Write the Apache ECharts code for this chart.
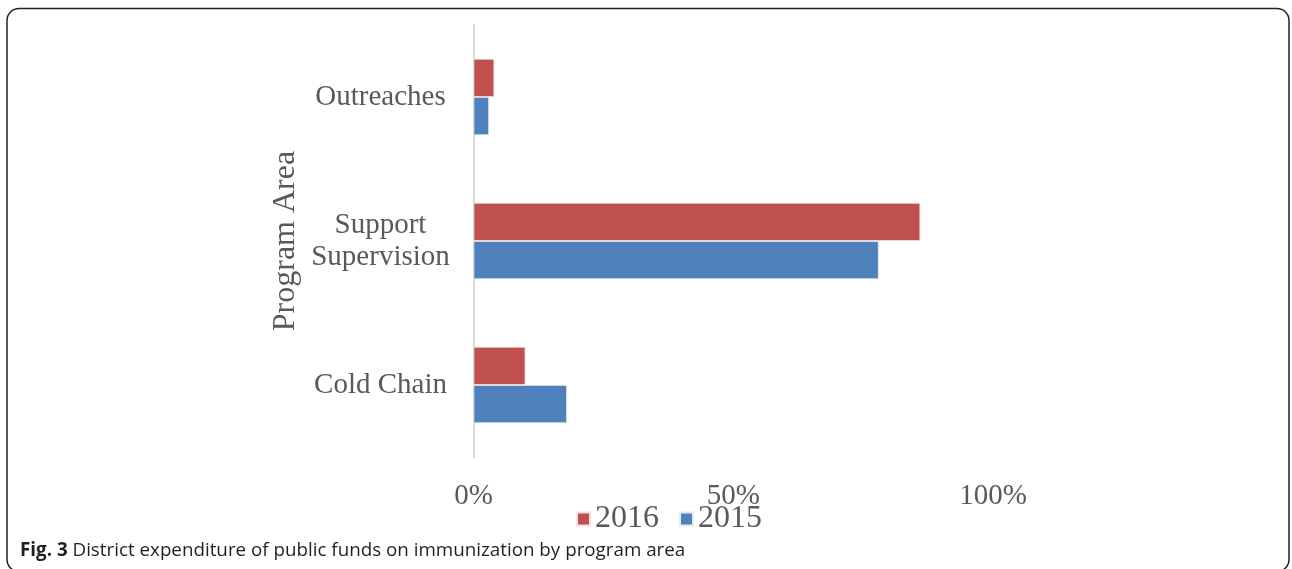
<!DOCTYPE html>
<html>
<head>
<meta charset="utf-8">
<script src="https://cdn.jsdelivr.net/npm/echarts@6/dist/echarts.min.js"></script>
<style>
html,body{margin:0;padding:0;background:#fff;}
#chart{width:1292px;height:569px;}
</style>
</head>
<body>
<div id="chart"></div>
<script>
const categories = ['Cold Chain', 'Support\nSupervision', 'Outreaches'];
const values2015 = [18, 78, 3];
const values2016 = [10, 86, 4];
const xTicks = [0, 50, 100];
const axisTitle = 'Program Area';
const caption = 'District expenditure of public funds on immunization by program area';

const serif = "'Liberation Serif', 'DejaVu Serif', serif";
const sans = "'Liberation Sans Narrow', 'Open Sans', sans-serif";
const gray = '#595959';

const chart = echarts.init(document.getElementById('chart'));
chart.setOption({
  animation: false,
  title: {
    left: 20, top: 541, padding: 0,
    text: '{b|Fig. 3} ' + caption,
    textStyle: {
      fontFamily: sans, fontSize: 18.8, fontWeight: 'normal', color: '#231F20',
      rich: { b: { fontWeight: 'bold', fontSize: 18.8, fontFamily: sans, color: '#231F20' } }
    }
  },
  legend: {
    data: ['2016', '2015'],
    left: 571, top: 498,
    itemWidth: 13, itemHeight: 13, itemGap: 20,
    icon: 'rect',
    textStyle: { fontFamily: serif, fontSize: 32, color: gray }
  },
  grid: { left: 473.5, right: 299, top: 25, bottom: 112, containLabel: false },
  xAxis: {
    type: 'value', min: xTicks[0], max: xTicks[xTicks.length - 1], interval: 50,
    axisLine: { show: false }, axisTick: { show: false }, splitLine: { show: false },
    axisLabel: { formatter: '{value}%', fontFamily: serif, fontSize: 29, color: gray, margin: 25 }
  },
  yAxis: {
    type: 'category', data: categories,
    name: axisTitle, nameLocation: 'middle', nameRotate: 90, nameGap: 172,
    nameTextStyle: { fontFamily: serif, fontSize: 32, color: gray },
    axisLine: { show: true, lineStyle: { color: '#D9D9D9', width: 2 } },
    axisTick: { show: false },
    axisLabel: { align: 'center', margin: 93, fontFamily: serif, fontSize: 29, lineHeight: 32, color: gray }
  },
  series: [
    { name: '2016', type: 'bar', data: values2016, barGap: '0%', barCategoryGap: '47%',
      itemStyle: { color: '#C0504D', borderColor: '#F2E3E3', borderWidth: 0.8 } },
    { name: '2015', type: 'bar', data: values2015, barGap: '0%', barCategoryGap: '47%',
      itemStyle: { color: '#4F81BD', borderColor: '#E6EAF2', borderWidth: 0.8 } }
  ],
  graphic: [{
    type: 'rect', silent: true,
    shape: { x: 7, y: 8.5, width: 1282, height: 563, r: 12 },
    style: { fill: 'none', stroke: '#222', lineWidth: 1.5 }
  }]
});
</script>
</body>
</html>
